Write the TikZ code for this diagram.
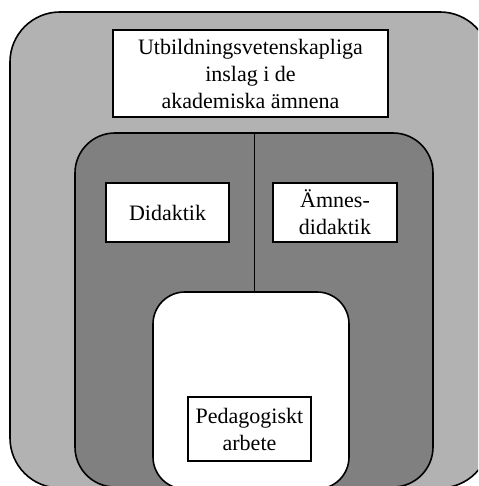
\documentclass[tikz,border=0pt]{standalone}
\usepackage{fontspec}
\setmainfont{Liberation Serif}
\usetikzlibrary{positioning}
\definecolor{lightgrey}{gray}{0.7}
\definecolor{darkgrey}{gray}{0.5}

\begin{document}
\begin{tikzpicture}[x=1pt, y=-1pt]
	\tikzstyle{every node}=[font=\fontsize{22}{27}\selectfont, outer sep=0pt]
	\tikzstyle{area}=[draw, line width=1.6pt, inner sep=0pt]
	\tikzstyle{textbox}=[draw, fill=white, line width=1.8pt, align=center, inner sep=0pt]
	\useasboundingbox (0,0) rectangle (478,486);
	\clip (0,0) rectangle (478,486);
	% the three nested areas
	\node [area, fill=lightgrey, rounded corners=50pt, minimum width=480, minimum height=476] (outer) at (250,250) {};
	\node [area, fill=darkgrey, rounded corners=40pt, minimum width=358, minimum height=354] (middle) at (254,310) {};
	\draw [line width=1pt] (middle.north) -- (middle.north |- 0,292);
	\node [area, fill=white, rounded corners=32pt, minimum width=196, minimum height=197] (inner) at (251,390.5) {};
	% labels
	\node [textbox, minimum width=275, minimum height=87] (utb) at (250.5,73.5) {Utbildningsvetenskapliga\\inslag i de\\akademiska ämnena};
	\node [textbox, minimum width=123, minimum height=59] (did) at (167.5,212.5) {Didaktik};
	\node [textbox, minimum width=124, minimum height=59] (amn) at (335,212.5) {Ämnes-\\didaktik};
	\node [textbox, minimum width=123, minimum height=64] (ped) at (249.5,429) {Pedagogiskt\\arbete};
\end{tikzpicture}
\end{document}
